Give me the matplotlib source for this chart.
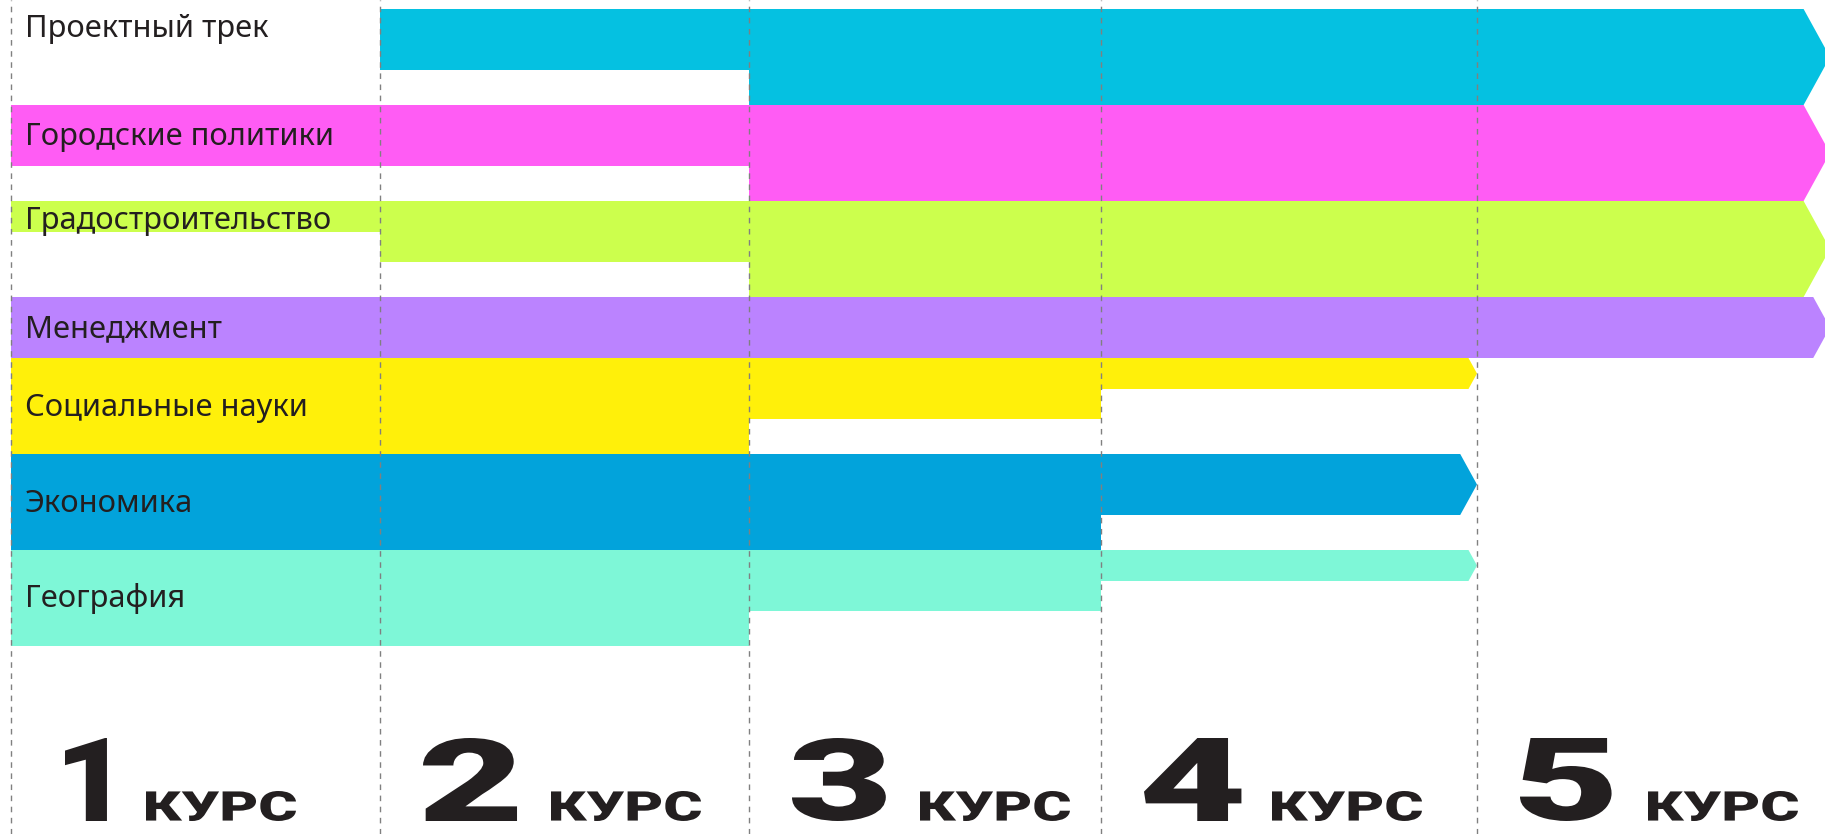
import matplotlib
matplotlib.use("Agg")
import matplotlib.pyplot as plt
from matplotlib.patches import Polygon, PathPatch
from matplotlib.textpath import TextPath
from matplotlib.font_manager import FontProperties
from matplotlib.transforms import Affine2D

# ---------------- data ----------------
subjects = ["Проектный трек", "Городские политики", "Градостроительство",
            "Менеджмент", "Социальные науки", "Экономика", "География"]
colors = ["#05C1E1", "#FF5CF4", "#CCFF4D", "#BB83FF",
          "#FFF00A", "#02A3DB", "#7EF7D7"]
# band thickness of every subject in courses 1..5
load_proj = [0, 61, 96, 96, 96]
load_city = [61, 61, 96, 96, 96]
load_urban = [31, 61, 96, 96, 96]
load_mgmt = [61, 61, 61, 61, 61]
load_soc = [96, 96, 61, 31, 0]
load_econ = [96, 96, 96, 61, 0]
load_geo = [96, 96, 61, 31, 0]
loads = [load_proj, load_city, load_urban, load_mgmt, load_soc, load_econ, load_geo]

course_numbers = ["1", "2", "3", "4", "5"]
course_word = "КУРС"
course_edges = [11, 380, 749, 1101, 1477, 1830]

# ---------------- figure ----------------
W, H = 1825, 834
fig = plt.figure(figsize=(W / 100, H / 100), dpi=100)
ax = fig.add_axes([0, 0, 1, 1])
ax.set_xlim(0, W)
ax.set_ylim(H, 0)
ax.axis("off")

text_color = "#231F20"
top = 9
for name, col, h in zip(subjects, colors, loads):
    nz = [i for i, v in enumerate(h) if v > 0]
    s, e = nz[0], nz[-1]
    tip = course_edges[e + 1]
    body_end = tip - 0.275 * h[e]
    pts = [(course_edges[s], top), (body_end, top),
           (tip, top + h[e] / 2), (body_end, top + h[e])]
    for c in range(e, s - 1, -1):
        pts.append((course_edges[c + 1] if c != e else body_end, top + h[c]))
        pts.append((course_edges[c], top + h[c]))
    ax.add_patch(Polygon(pts, closed=True, facecolor=col, edgecolor="none",
                         zorder=1, antialiased=True))
    base = top + max(h[0], 37) / 2 + 9.5
    ax.text(25, base, name, fontsize=22.2, family=["Noto Sans", "DejaVu Sans"],
            color=text_color, ha="left", va="baseline", zorder=3)
    top += max(h)

for x in course_edges[:5]:
    ax.axvline(x, color="#808080", lw=1.0, linestyle=(0, (4, 4)), zorder=2)

# course labels drawn as stretched heavy glyphs
heavy = FontProperties(family=["Roboto", "DejaVu Sans"], weight="black")
baseline = 821
digit_h, digit_stretch, narrow_stretch = 83, 1.6, 1.1
word_h, word_w = 30, 150


def glyph(txt, left, height, sx_factor=None, width=None):
    p = TextPath((0, 0), txt, size=1, prop=heavy)
    bb = p.get_extents()
    sy = height / bb.height
    sx = width / bb.width if width else sy * sx_factor
    tr = Affine2D().translate(-bb.x0, -bb.y0).scale(sx, -sy).translate(left, baseline)
    ax.add_patch(PathPatch(tr.transform_path(p), facecolor=text_color,
                           edgecolor="none", zorder=3))


for i, num in enumerate(course_numbers):
    narrow = num == "1"
    glyph(num, course_edges[i] + (54 if narrow else 43), digit_h,
          sx_factor=narrow_stretch if narrow else digit_stretch)
    glyph(course_word, course_edges[i] + (135 if narrow else 171), word_h, width=word_w)

fig.savefig("out.png", dpi=100)
